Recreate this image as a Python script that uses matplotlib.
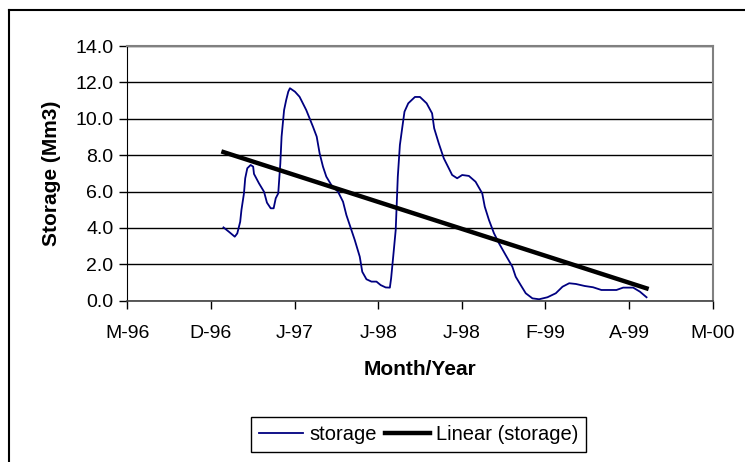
import matplotlib.pyplot as plt
from matplotlib.lines import Line2D

plt.rcParams['font.family'] = ['Liberation Sans', 'DejaVu Sans']

# days counted from the first axis tick (M-96); ticks every 200 days
tick_labels = ["M-96", "D-96", "J-97", "J-98", "J-98", "F-99", "A-99", "M-00"]
tick_days = [0, 200, 400, 600, 800, 1000, 1200, 1400]

day = [230, 243, 257, 263, 270, 273, 279, 282, 287, 295, 301, 303, 315, 327,
       334, 343, 350, 355, 361, 366, 369, 375, 380, 385, 389, 401, 412, 428,
       444, 453, 460, 468, 476, 488, 504, 516, 524, 544, 556, 562, 572, 584,
       596, 606, 618, 628, 631, 636, 642, 647, 652, 658, 663, 672, 688, 700,
       716, 729, 734, 745, 757, 769, 777, 789, 801, 817, 833, 849, 855, 865,
       877, 889, 905, 921, 929, 941, 953, 969, 985, 1005, 1025, 1041, 1057,
       1073, 1094, 1114, 1134, 1170, 1186, 1210, 1226, 1242]
storage = [4.03, 3.79, 3.52, 3.70, 4.34, 4.99, 5.90, 6.73, 7.28, 7.46, 7.37,
           6.97, 6.45, 5.99, 5.39, 5.08, 5.08, 5.63, 5.90, 7.55, 9.02, 10.48,
           11.03, 11.49, 11.68, 11.49, 11.21, 10.48, 9.57, 9.02, 8.10, 7.37,
           6.82, 6.36, 5.99, 5.44, 4.71, 3.34, 2.42, 1.59, 1.18, 1.05, 1.05,
           0.86, 0.73, 0.72, 1.23, 2.42, 3.89, 6.82, 8.56, 9.57, 10.39, 10.85,
           11.2, 11.2, 10.85, 10.30, 9.48, 8.65, 7.83, 7.28, 6.91, 6.73, 6.91,
           6.86, 6.54, 5.90, 5.17, 4.44, 3.71, 3.16, 2.51, 1.87, 1.32, 0.86,
           0.41, 0.13, 0.08, 0.19, 0.41, 0.77, 0.96, 0.92, 0.81, 0.74, 0.59,
           0.59, 0.72, 0.72, 0.50, 0.19]

# linear trend end values
trend_days = [230, 1242]
trend_vals = [8.17, 0.68]

fig = plt.figure(figsize=(7.45, 4.62), dpi=100)
ax = fig.add_axes([0.1709, 0.3491, 0.7856, 0.5513])

ax.set_axisbelow(True)
ax.yaxis.grid(True, color='black', linewidth=1.0)
ax.plot(day, storage, color='#000080', linewidth=1.3, label='storage')
ax.plot(trend_days, trend_vals, color='black', linewidth=3.2,
        label='Linear (storage)')

ax.set_xlim(0, 1400)
ax.set_ylim(0, 14)
ax.set_xticks(tick_days)
ax.set_xticklabels(tick_labels)
ax.set_yticks(range(0, 15, 2))
ax.set_yticklabels([f"{v:.1f}" for v in range(0, 15, 2)])
ax.tick_params(labelsize=14, length=6, width=1, direction='out',
               colors='black', pad=4)
ax.tick_params(axis='x', pad=11.5)

for s in ['top', 'right']:
    ax.spines[s].set_color('#808080')
    ax.spines[s].set_linewidth(1.5)
ax.spines['left'].set_color('black')
ax.spines['bottom'].set_color('#404040')
ax.spines['bottom'].set_linewidth(1.2)

ax.set_xlabel("Month/Year", fontsize=15, fontweight='bold', labelpad=13)
ax.set_ylabel("Storage (Mm3)", fontsize=15, fontweight='bold', labelpad=10)

fig.legend(loc='center', bbox_to_anchor=(0.5616, 0.0595), ncol=2,
           fontsize=14.5, frameon=True, fancybox=False, edgecolor='black',
           framealpha=1, handlelength=2.2, handletextpad=0.3,
           columnspacing=0.45, borderpad=0.4)

# outer chart-area border (cut off on the right and bottom)
fig.add_artist(Line2D([0.012, 0.012], [0, 0.979], color='black',
                      linewidth=1.5, transform=fig.transFigure))
fig.add_artist(Line2D([0.012, 1], [0.979, 0.979], color='black',
                      linewidth=1.5, transform=fig.transFigure))

fig.savefig("out.png", dpi=100)
